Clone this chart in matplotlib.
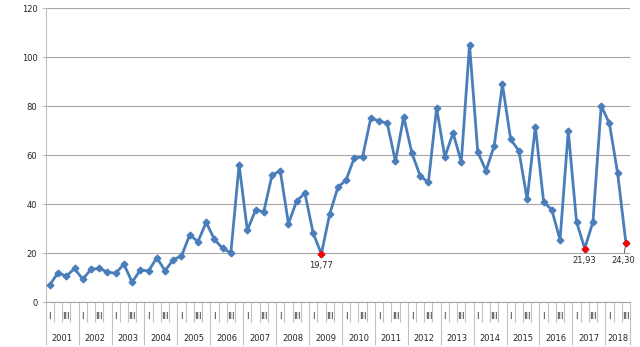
import numpy as np
import matplotlib.pyplot as plt

# valores trimestrales 2001-I .. 2018-III
anios = [str(a) for a in range(2001, 2019)]
trimestres = ['I', 'II', 'III', 'IV']
valores = [
    7.1, 12.1, 10.6, 13.8,
    9.4, 13.5, 13.8, 12.4,
    11.8, 15.6, 8.2, 13.2,
    12.8, 18.2, 12.9, 17.4,
    18.9, 27.5, 24.8, 32.6,
    25.7, 22.0, 20.2, 56.2,
    29.4, 37.6, 37.0, 51.9,
    53.7, 32.1, 41.4, 44.5,
    28.2, 19.77, 35.9, 46.9,
    49.9, 59.0, 59.3, 75.2,
    74.0, 73.1, 57.5, 75.7,
    60.9, 51.6, 48.9, 79.3,
    59.3, 69.1, 57.3, 105.2,
    61.4, 53.7, 63.9, 88.9,
    66.5, 61.8, 42.1, 71.7,
    41.1, 37.7, 25.5, 70.0,
    32.9, 21.93, 32.9, 80.2,
    73.0, 52.6, 24.30,
]
destacados = [33, 65, 70]
etiquetas = ['19,77', '21,93', '24,30']

azul = '#4a7ebb'
gris = '#a6a6a6'
gris_claro = '#c0c0c0'

n = len(valores)
x = np.arange(n) + 0.5

fig = plt.figure(figsize=(6.4, 3.47), dpi=100)
ax = fig.add_axes([45.7 / 640, 1 - 302.3 / 347, (630 - 45.7) / 640, (302.3 - 8.3) / 347])

ax.plot(x, valores, color=azul, lw=2.0, marker='D', markersize=3.4,
        markerfacecolor=azul, markeredgecolor=azul, zorder=3)

for i, txt in zip(destacados, etiquetas):
    ax.plot(x[i], valores[i], marker='D', markersize=3.2, color='red',
            markeredgecolor='red', zorder=4)
    if txt == '24,30':
        ax.annotate(txt, xy=(x[i], valores[i]), xytext=(-2, -13), textcoords='offset points',
                    ha='center', va='center', fontsize=6, color='#262626',
                    arrowprops=dict(arrowstyle='-', color='#404040', lw=0.6,
                                    shrinkA=0.5, shrinkB=2.5))
    else:
        ax.annotate(txt, xy=(x[i], valores[i]), xytext=(0, -8.6), textcoords='offset points',
                    ha='center', va='center', fontsize=6, color='#262626')

ax.set_xlim(0, n)
ax.set_ylim(0, 120)
ax.set_yticks(np.arange(0, 121, 20))
ax.yaxis.grid(True, color=gris, lw=0.8)
ax.set_axisbelow(True)
ax.tick_params(axis='y', labelsize=6, labelcolor='#262626', color=gris_claro,
               length=3, width=0.8, pad=3)

for lado in ['top', 'right']:
    ax.spines[lado].set_visible(False)
ax.spines['left'].set_color(gris_claro)
ax.spines['bottom'].set_color(gris)
ax.spines['left'].set_linewidth(0.8)
ax.spines['bottom'].set_linewidth(0.8)

# eje de categorias en dos niveles
limites_anio = list(range(0, n, 4)) + [n]
limites_trim = [b for b in range(n + 1) if b not in limites_anio]
ax.set_xticks(limites_anio)
ax.set_xticks(limites_trim, minor=True)
ax.set_xticklabels([])
ax.tick_params(axis='x', which='major', length=31, color=gris_claro, width=0.8)
ax.tick_params(axis='x', which='minor', length=14.5, color=gris_claro, width=0.8)

trans = ax.get_xaxis_transform()
for i in range(n):
    q = trimestres[i % 4]
    if q in ('I', 'III'):
        ax.annotate(q, xy=(x[i], 0), xycoords=trans, xytext=(0, -10.4),
                    textcoords='offset points', ha='center', va='center',
                    fontsize=6, color='#262626')
for k, a in enumerate(anios):
    ini = limites_anio[k]
    fin = limites_anio[k + 1]
    ax.annotate(a, xy=((ini + fin) / 2, 0), xycoords=trans, xytext=(0, -25.9),
                textcoords='offset points', ha='center', va='center',
                fontsize=6, color='#262626')

fig.savefig('out.png', dpi=100)
